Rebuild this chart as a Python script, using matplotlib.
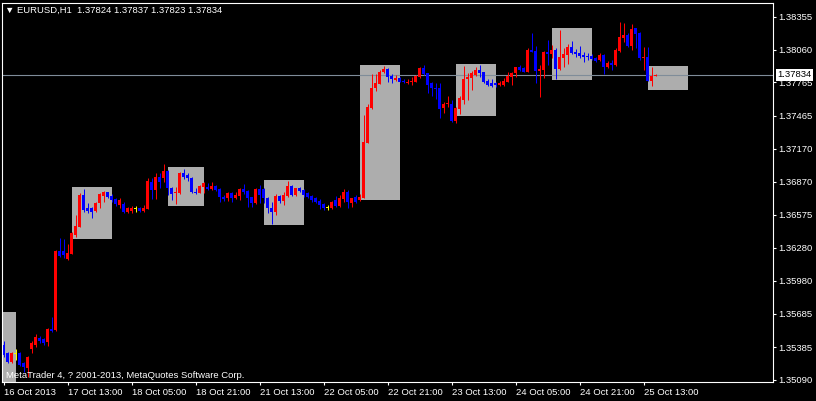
import matplotlib
matplotlib.use('Agg')
import matplotlib.pyplot as plt
import matplotlib.transforms as mtransforms

plt.rcParams['font.family'] = ['Liberation Sans', 'DejaVu Sans']

# EURUSD H1 bars (oldest first)
open_ = [
    1.35405, 1.35330, 1.35254, 1.35330, 1.35335, 1.35240, 1.35195, 1.35369, 1.35405, 1.35468,
    1.35456, 1.35434, 1.35548, 1.35539, 1.36249, 1.36249, 1.36177, 1.36222, 1.36393, 1.36468,
    1.36753, 1.36633, 1.36633, 1.36609, 1.36678, 1.36746, 1.36777, 1.36744, 1.36717, 1.36663,
    1.36669, 1.36603, 1.36610, 1.36627, 1.36638, 1.36609, 1.36627, 1.36872, 1.36798, 1.36912,
    1.36903, 1.36968, 1.36813, 1.36771, 1.36768, 1.36948, 1.36932, 1.36908, 1.36782, 1.36773,
    1.36827, 1.36827, 1.36804, 1.36836, 1.36807, 1.36737, 1.36723, 1.36773, 1.36728, 1.36744,
    1.36807, 1.36789, 1.36732, 1.36678, 1.36807, 1.36804, 1.36728, 1.36638, 1.36603, 1.36744,
    1.36701, 1.36744, 1.36833, 1.36753, 1.36813, 1.36798, 1.36768, 1.36746, 1.36728, 1.36701,
    1.36672, 1.36642, 1.36633, 1.36708, 1.36656, 1.36717, 1.36782, 1.36683, 1.36737, 1.36708,
    1.36728, 1.37223, 1.37532, 1.37712, 1.37750, 1.37855, 1.37885, 1.37825, 1.37786, 1.37807,
    1.37780, 1.37762, 1.37771, 1.37771, 1.37810, 1.37891, 1.37846, 1.37756, 1.37717, 1.37717,
    1.37537, 1.37568, 1.37570, 1.37418, 1.37523, 1.37606, 1.37795, 1.37807, 1.37831, 1.37876,
    1.37855, 1.37777, 1.37762, 1.37756, 1.37741, 1.37741, 1.37771, 1.37816, 1.37852, 1.37906,
    1.37891, 1.37861, 1.38056, 1.38047, 1.37867, 1.37876, 1.38035, 1.38020, 1.38056, 1.37885,
    1.37987, 1.38011, 1.38080, 1.38040, 1.38031, 1.38011, 1.38005, 1.38002, 1.37987, 1.37966,
    1.38011, 1.37900, 1.37942, 1.37921, 1.38049, 1.38161, 1.38191, 1.38094, 1.38251, 1.38211,
    1.37981, 1.37990, 1.37780, 1.37824,
]
high = [
    1.35440, 1.35344, 1.35344, 1.35366, 1.35344, 1.35254, 1.35306, 1.35443, 1.35503, 1.35485,
    1.35468, 1.35560, 1.35659, 1.36258, 1.36369, 1.36354, 1.36310, 1.36417, 1.36573, 1.36768,
    1.36807, 1.36678, 1.36647, 1.36692, 1.36768, 1.36791, 1.36782, 1.36759, 1.36723, 1.36723,
    1.36692, 1.36647, 1.36652, 1.36654, 1.36647, 1.36663, 1.36903, 1.36908, 1.36948, 1.36948,
    1.37031, 1.36977, 1.36827, 1.36822, 1.36962, 1.36984, 1.36948, 1.36917, 1.36813, 1.36842,
    1.36872, 1.36863, 1.36869, 1.36842, 1.36813, 1.36753, 1.36777, 1.36782, 1.36777, 1.36813,
    1.36849, 1.36798, 1.36737, 1.36818, 1.36842, 1.36818, 1.36737, 1.36687, 1.36759, 1.36753,
    1.36782, 1.36878, 1.36842, 1.36818, 1.36827, 1.36807, 1.36782, 1.36753, 1.36737, 1.36717,
    1.36683, 1.36663, 1.36701, 1.36746, 1.36753, 1.36807, 1.36798, 1.36728, 1.36753, 1.36759,
    1.37472, 1.37568, 1.37840, 1.37837, 1.37876, 1.37912, 1.37891, 1.37837, 1.37831, 1.37816,
    1.37792, 1.37792, 1.37816, 1.37831, 1.37906, 1.37921, 1.37852, 1.37771, 1.37756, 1.37756,
    1.37591, 1.37642, 1.37606, 1.37546, 1.37642, 1.37912, 1.37852, 1.37870, 1.37906, 1.37921,
    1.37861, 1.37792, 1.37792, 1.37771, 1.37780, 1.37801, 1.37861, 1.37861, 1.37906, 1.37921,
    1.37906, 1.38076, 1.38206, 1.38092, 1.37921, 1.38047, 1.38146, 1.38101, 1.38071, 1.38236,
    1.38071, 1.38107, 1.38137, 1.38065, 1.38092, 1.38035, 1.38026, 1.38017, 1.37996, 1.38026,
    1.38017, 1.37957, 1.37966, 1.38071, 1.38310, 1.38296, 1.38206, 1.38289, 1.38256, 1.38220,
    1.38080, 1.38080, 1.37906, 1.37837,
]
low = [
    1.35299, 1.35240, 1.35245, 1.35270, 1.35216, 1.35165, 1.35120, 1.35335, 1.35389, 1.35425,
    1.35405, 1.35398, 1.35524, 1.35530, 1.36195, 1.36184, 1.36166, 1.36220, 1.36378, 1.36462,
    1.36597, 1.36588, 1.36549, 1.36597, 1.36633, 1.36692, 1.36723, 1.36692, 1.36656, 1.36638,
    1.36588, 1.36588, 1.36592, 1.36597, 1.36603, 1.36597, 1.36624, 1.36714, 1.36717, 1.36813,
    1.36872, 1.36753, 1.36708, 1.36672, 1.36762, 1.36894, 1.36881, 1.36768, 1.36759, 1.36768,
    1.36768, 1.36798, 1.36795, 1.36789, 1.36692, 1.36699, 1.36699, 1.36692, 1.36717, 1.36708,
    1.36759, 1.36647, 1.36647, 1.36672, 1.36678, 1.36678, 1.36594, 1.36492, 1.36573, 1.36678,
    1.36663, 1.36737, 1.36746, 1.36744, 1.36777, 1.36737, 1.36723, 1.36692, 1.36678, 1.36627,
    1.36618, 1.36618, 1.36627, 1.36647, 1.36647, 1.36687, 1.36638, 1.36647, 1.36683, 1.36701,
    1.36723, 1.37217, 1.37526, 1.37690, 1.37747, 1.37849, 1.37771, 1.37762, 1.37780, 1.37765,
    1.37756, 1.37747, 1.37741, 1.37765, 1.37801, 1.37831, 1.37672, 1.37642, 1.37613, 1.37442,
    1.37492, 1.37546, 1.37411, 1.37402, 1.37481, 1.37570, 1.37606, 1.37696, 1.37822, 1.37816,
    1.37762, 1.37732, 1.37726, 1.37726, 1.37732, 1.37732, 1.37765, 1.37741, 1.37816, 1.37867,
    1.37855, 1.37855, 1.38035, 1.37756, 1.37636, 1.37807, 1.37921, 1.37987, 1.37795, 1.37876,
    1.37906, 1.37927, 1.38020, 1.37996, 1.37987, 1.37951, 1.37966, 1.37966, 1.37951, 1.37957,
    1.37837, 1.37891, 1.37876, 1.37915, 1.38040, 1.38125, 1.38085, 1.38056, 1.38071, 1.37966,
    1.37876, 1.37780, 1.37735, 1.37823,
]
close = [
    1.35315, 1.35254, 1.35335, 1.35330, 1.35225, 1.35204, 1.35299, 1.35420, 1.35479, 1.35438,
    1.35425, 1.35548, 1.35533, 1.36249, 1.36204, 1.36213, 1.36234, 1.36408, 1.36477, 1.36753,
    1.36618, 1.36609, 1.36603, 1.36683, 1.36762, 1.36782, 1.36737, 1.36708, 1.36672, 1.36708,
    1.36597, 1.36633, 1.36640, 1.36627, 1.36612, 1.36638, 1.36878, 1.36798, 1.36917, 1.36872,
    1.36968, 1.36813, 1.36762, 1.36777, 1.36948, 1.36917, 1.36903, 1.36782, 1.36773, 1.36833,
    1.36858, 1.36804, 1.36833, 1.36798, 1.36732, 1.36717, 1.36768, 1.36728, 1.36753, 1.36804,
    1.36777, 1.36723, 1.36678, 1.36807, 1.36753, 1.36723, 1.36633, 1.36603, 1.36744, 1.36701,
    1.36753, 1.36833, 1.36753, 1.36813, 1.36789, 1.36753, 1.36737, 1.36708, 1.36687, 1.36663,
    1.36633, 1.36642, 1.36692, 1.36656, 1.36723, 1.36782, 1.36692, 1.36723, 1.36692, 1.36737,
    1.37226, 1.37546, 1.37717, 1.37756, 1.37861, 1.37885, 1.37816, 1.37792, 1.37807, 1.37771,
    1.37765, 1.37771, 1.37780, 1.37822, 1.37897, 1.37840, 1.37741, 1.37712, 1.37705, 1.37523,
    1.37570, 1.37577, 1.37418, 1.37537, 1.37627, 1.37795, 1.37816, 1.37846, 1.37876, 1.37852,
    1.37765, 1.37741, 1.37732, 1.37741, 1.37756, 1.37777, 1.37825, 1.37846, 1.37900, 1.37876,
    1.37861, 1.38056, 1.38040, 1.37867, 1.37885, 1.38040, 1.38017, 1.38056, 1.37885, 1.37996,
    1.38017, 1.38080, 1.38031, 1.38017, 1.38002, 1.37996, 1.37990, 1.37975, 1.37960, 1.38011,
    1.37906, 1.37942, 1.37921, 1.38056, 1.38170, 1.38191, 1.38094, 1.38244, 1.38200, 1.37981,
    1.37996, 1.37780, 1.37822, 1.37834,
]

# session boxes (bar index range and price range)
box_start = [-7, 17, 41, 65, 89, 113, 137, 161]
box_end = [3, 27, 50, 75, 99, 123, 147, 171]
box_high = [1.35701, 1.36825, 1.37006, 1.36887, 1.37921, 1.37930, 1.38253, 1.37912]
box_low = [1.35030, 1.36360, 1.36656, 1.36483, 1.36708, 1.37463, 1.37786, 1.37696]

time_ticks = [0, 16, 32, 48, 64, 80, 96, 112, 128, 144, 160]
time_labels = ['16 Oct 2013', '17 Oct 13:00', '18 Oct 05:00', '18 Oct 21:00', '21 Oct 13:00',
               '22 Oct 05:00', '22 Oct 21:00', '23 Oct 13:00', '24 Oct 05:00', '24 Oct 21:00',
               '25 Oct 13:00']
price_ticks = [1.35090, 1.35385, 1.35685, 1.35980, 1.36280, 1.36575, 1.36870, 1.37170,
               1.37465, 1.37765, 1.38060, 1.38355]
last_price = 1.37834
header = '\u25bc EURUSD,H1  1.37824 1.37837 1.37823 1.37834'
copyright_text = 'MetaTrader 4, ? 2001-2013, MetaQuotes Software Corp.'

W, H = 816, 401
fig = plt.figure(figsize=(W / 100, H / 100), dpi=100, facecolor='black')
ax = fig.add_axes([2 / W, 1 - 382 / H, 771 / W, 379 / H])
ax.set_facecolor('black')
# 4 px per bar, offset so bar bodies land on whole pixels
ax.set_xlim(-0.375, 192.375)
ax.set_ylim(1.350720, 1.384781)

# boxes
ax.bar(box_start, [h - l for h, l in zip(box_high, box_low)],
       width=[e - s for s, e in zip(box_start, box_end)], bottom=box_low,
       align='edge', color='#ADADAD', linewidth=0, zorder=0.5)

ax.axhline(last_price, color='#7F8C99', lw=0.8, zorder=1)

# candles
xs = list(range(len(close)))
colors = []
for o, c in zip(open_, close):
    if c > o:
        colors.append('#FF0000')
    elif c < o:
        colors.append('#0000FF')
    else:
        colors.append('#FFFF00')
ax.vlines(xs, low, high, colors=colors, lw=0.72, zorder=2)
min_h = 0.00009
bodies = [max(abs(c - o), min_h) for o, c in zip(open_, close)]
bottoms = [min(o, c) if abs(c - o) >= min_h else (o + c) / 2 - min_h / 2 for o, c in zip(open_, close)]
ax.bar(xs, bodies, bottom=bottoms, width=0.75, color=colors, linewidth=0, zorder=2.2)

# axes styling
for sp in ax.spines.values():
    sp.set_color('white')
    sp.set_linewidth(0.8)
ax.yaxis.tick_right()
ax.set_yticks(price_ticks)
ax.set_yticklabels([f'{p:.5f}' for p in price_ticks])
ax.set_xticks(time_ticks)
ax.set_xticklabels(time_labels, ha='left')
ax.tick_params(axis='y', colors='white', labelsize=6.8, length=2.2, width=0.8, pad=1.5)
ax.tick_params(axis='x', colors='white', labelsize=6.8, length=2.2, width=0.8, pad=2.0)

# current price label
trans = mtransforms.blended_transform_factory(ax.transAxes, ax.transData)
ax.text(1.0 + 4 / 771, last_price, f'{last_price:.5f}', transform=trans, ha='left', va='center',
        color='black', fontsize=6.8, zorder=5,
        bbox=dict(boxstyle='square,pad=0.15', fc='white', ec='none'))

fig.text(5 / W, 1 - 10.5 / H, header, color='white', fontsize=6.8, ha='left', va='center')
fig.text(6 / W, 1 - 375 / H, copyright_text, color='white', fontsize=6.8, ha='left', va='center')

fig.savefig('out.png', dpi=100, facecolor='black')
